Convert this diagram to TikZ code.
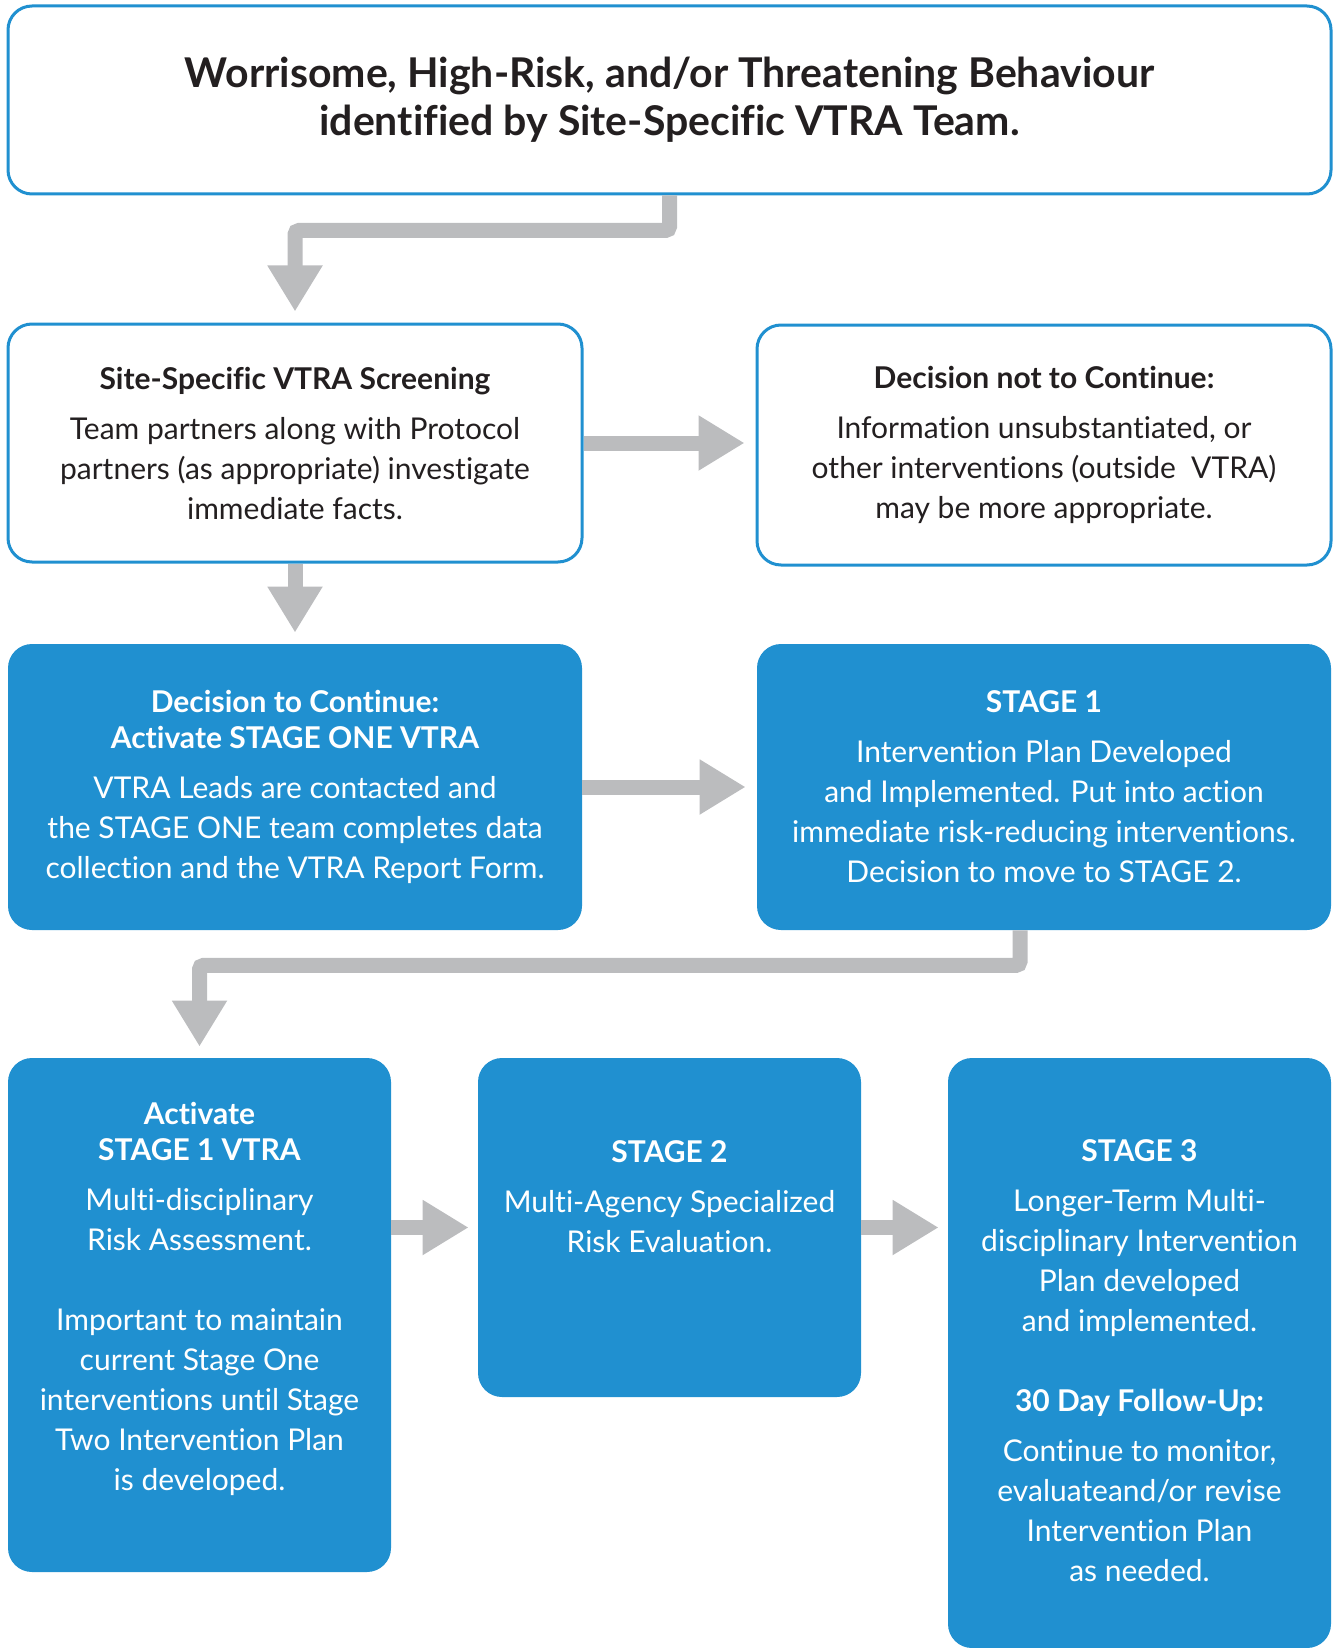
\documentclass[tikz,border=0pt]{standalone}
\usepackage{fontspec}
\setmainfont{Lato}[Ligatures=NoCommon]
\usetikzlibrary{arrows.meta,positioning}
\definecolor{vtrablue}{RGB}{32,144,208}
\definecolor{flowgrey}{RGB}{187,188,190}
\definecolor{inkdark}{RGB}{35,31,32}

\begin{document}
\begin{tikzpicture}[x=0.5pt,y=0.5pt,
    outlinebox/.style={draw=vtrablue,line width=1.5pt,rounded corners=12pt,fill=white,text=inkdark,align=center,inner sep=0pt,font=\fontsize{15}{20}\selectfont},
    filledbox/.style={fill=vtrablue,rounded corners=12pt,text=white,align=center,inner sep=0pt,font=\fontsize{15}{20}\selectfont},
    boxtext/.style={text=white,align=center,inner sep=0pt,font=\fontsize{15}{20}\selectfont},
    flow/.style={draw=flowgrey,line width=7.5pt,rounded corners=2pt,-{Triangle[width=26pt,length=23pt]},shorten >=5.5pt}]
    \useasboundingbox (0,0) rectangle (1333,-1648);

    \node[outlinebox,minimum width=661.5pt,minimum height=94pt,font=\fontsize{20.5}{24}\selectfont\bfseries](title) at (669.5,-100)
        {Worrisome, High-Risk, and/or Threatening Behaviour\\identified by Site-Specific VTRA Team.};
    \node[outlinebox,minimum width=287pt,minimum height=119pt](screen) at (295,-443)
        {\textbf{Site-Specific VTRA Screening}\\[5pt]Team partners along with Protocol\\partners (as appropriate) investigate\\immediate facts.};
    \node[outlinebox,minimum width=287pt,minimum height=120pt](decnot) at (1044,-445)
        {\textbf{Decision not to Continue:}\\[5pt]Information unsubstantiated, or\\other interventions (outside~ VTRA)\\may be more appropriate.};
    \node[filledbox,minimum width=287pt,minimum height=143pt](cont) at (295,-787)
        {\textbf{Decision to Continue:}\\[-2pt]\textbf{Activate STAGE ONE VTRA}\\[5pt]VTRA Leads are contacted and\\the STAGE ONE team completes data\\collection and the VTRA Report Form.};
    \node[filledbox,minimum width=287pt,minimum height=143pt](stageone) at (1044,-787)
        {\textbf{STAGE 1}\\[5pt]Intervention Plan Developed\\and Implemented. Put into action\\immediate risk-reducing interventions.\\Decision to move to STAGE 2.};

    \node[filledbox,minimum width=191.5pt,minimum height=257pt](vtra) at (199.5,-1315){};
    \node[filledbox,minimum width=191.5pt,minimum height=169.5pt](stagetwo) at (669.5,-1227.5){};
    \node[filledbox,minimum width=191.5pt,minimum height=295pt](stagethree) at (1139.5,-1353){};
    \node[boxtext](vtratext) at ([yshift=8pt]vtra.center)
        {\textbf{Activate}\\[-2pt]\textbf{STAGE 1 VTRA}\\[5pt]Multi-disciplinary\\Risk Assessment.\\[20pt]Important to maintain\\current Stage One\\interventions until Stage\\Two Intervention Plan\\is developed.};
    \node[boxtext](stagetwotext) at ([yshift=15.5pt]stagetwo.center)
        {\textbf{STAGE 2}\\[5pt]Multi-Agency Specialized\\Risk Evaluation.};
    \node[boxtext](stagethreetext) at ([yshift=-4pt]stagethree.center)
        {\textbf{STAGE 3}\\[5pt]Longer-Term Multi-\\disciplinary Intervention\\Plan developed\\and implemented.\\[20pt]\textbf{30 Day Follow-Up:}\\[5pt]Continue to monitor,\\evaluateand/or revise\\Intervention Plan\\as needed.};

    \draw[flow](title.south)--++(0,-35)-|(screen.north);
    \draw[flow](screen.east)--(screen.east-|decnot.west);
    \draw[flow](screen.south)--(cont.north);
    \draw[flow](cont.east)--(stageone.west);
    \draw[flow]([xshift=-12pt]stageone.south)--++(0,-35)-|(vtra.north);
    \draw[flow,shorten >=4.5pt](vtra.east|-stagetwo.center)--(stagetwo.west);
    \draw[flow,shorten >=4.5pt](stagetwo.east)--(stagethree.west|-stagetwo.center);
\end{tikzpicture}
\end{document}
